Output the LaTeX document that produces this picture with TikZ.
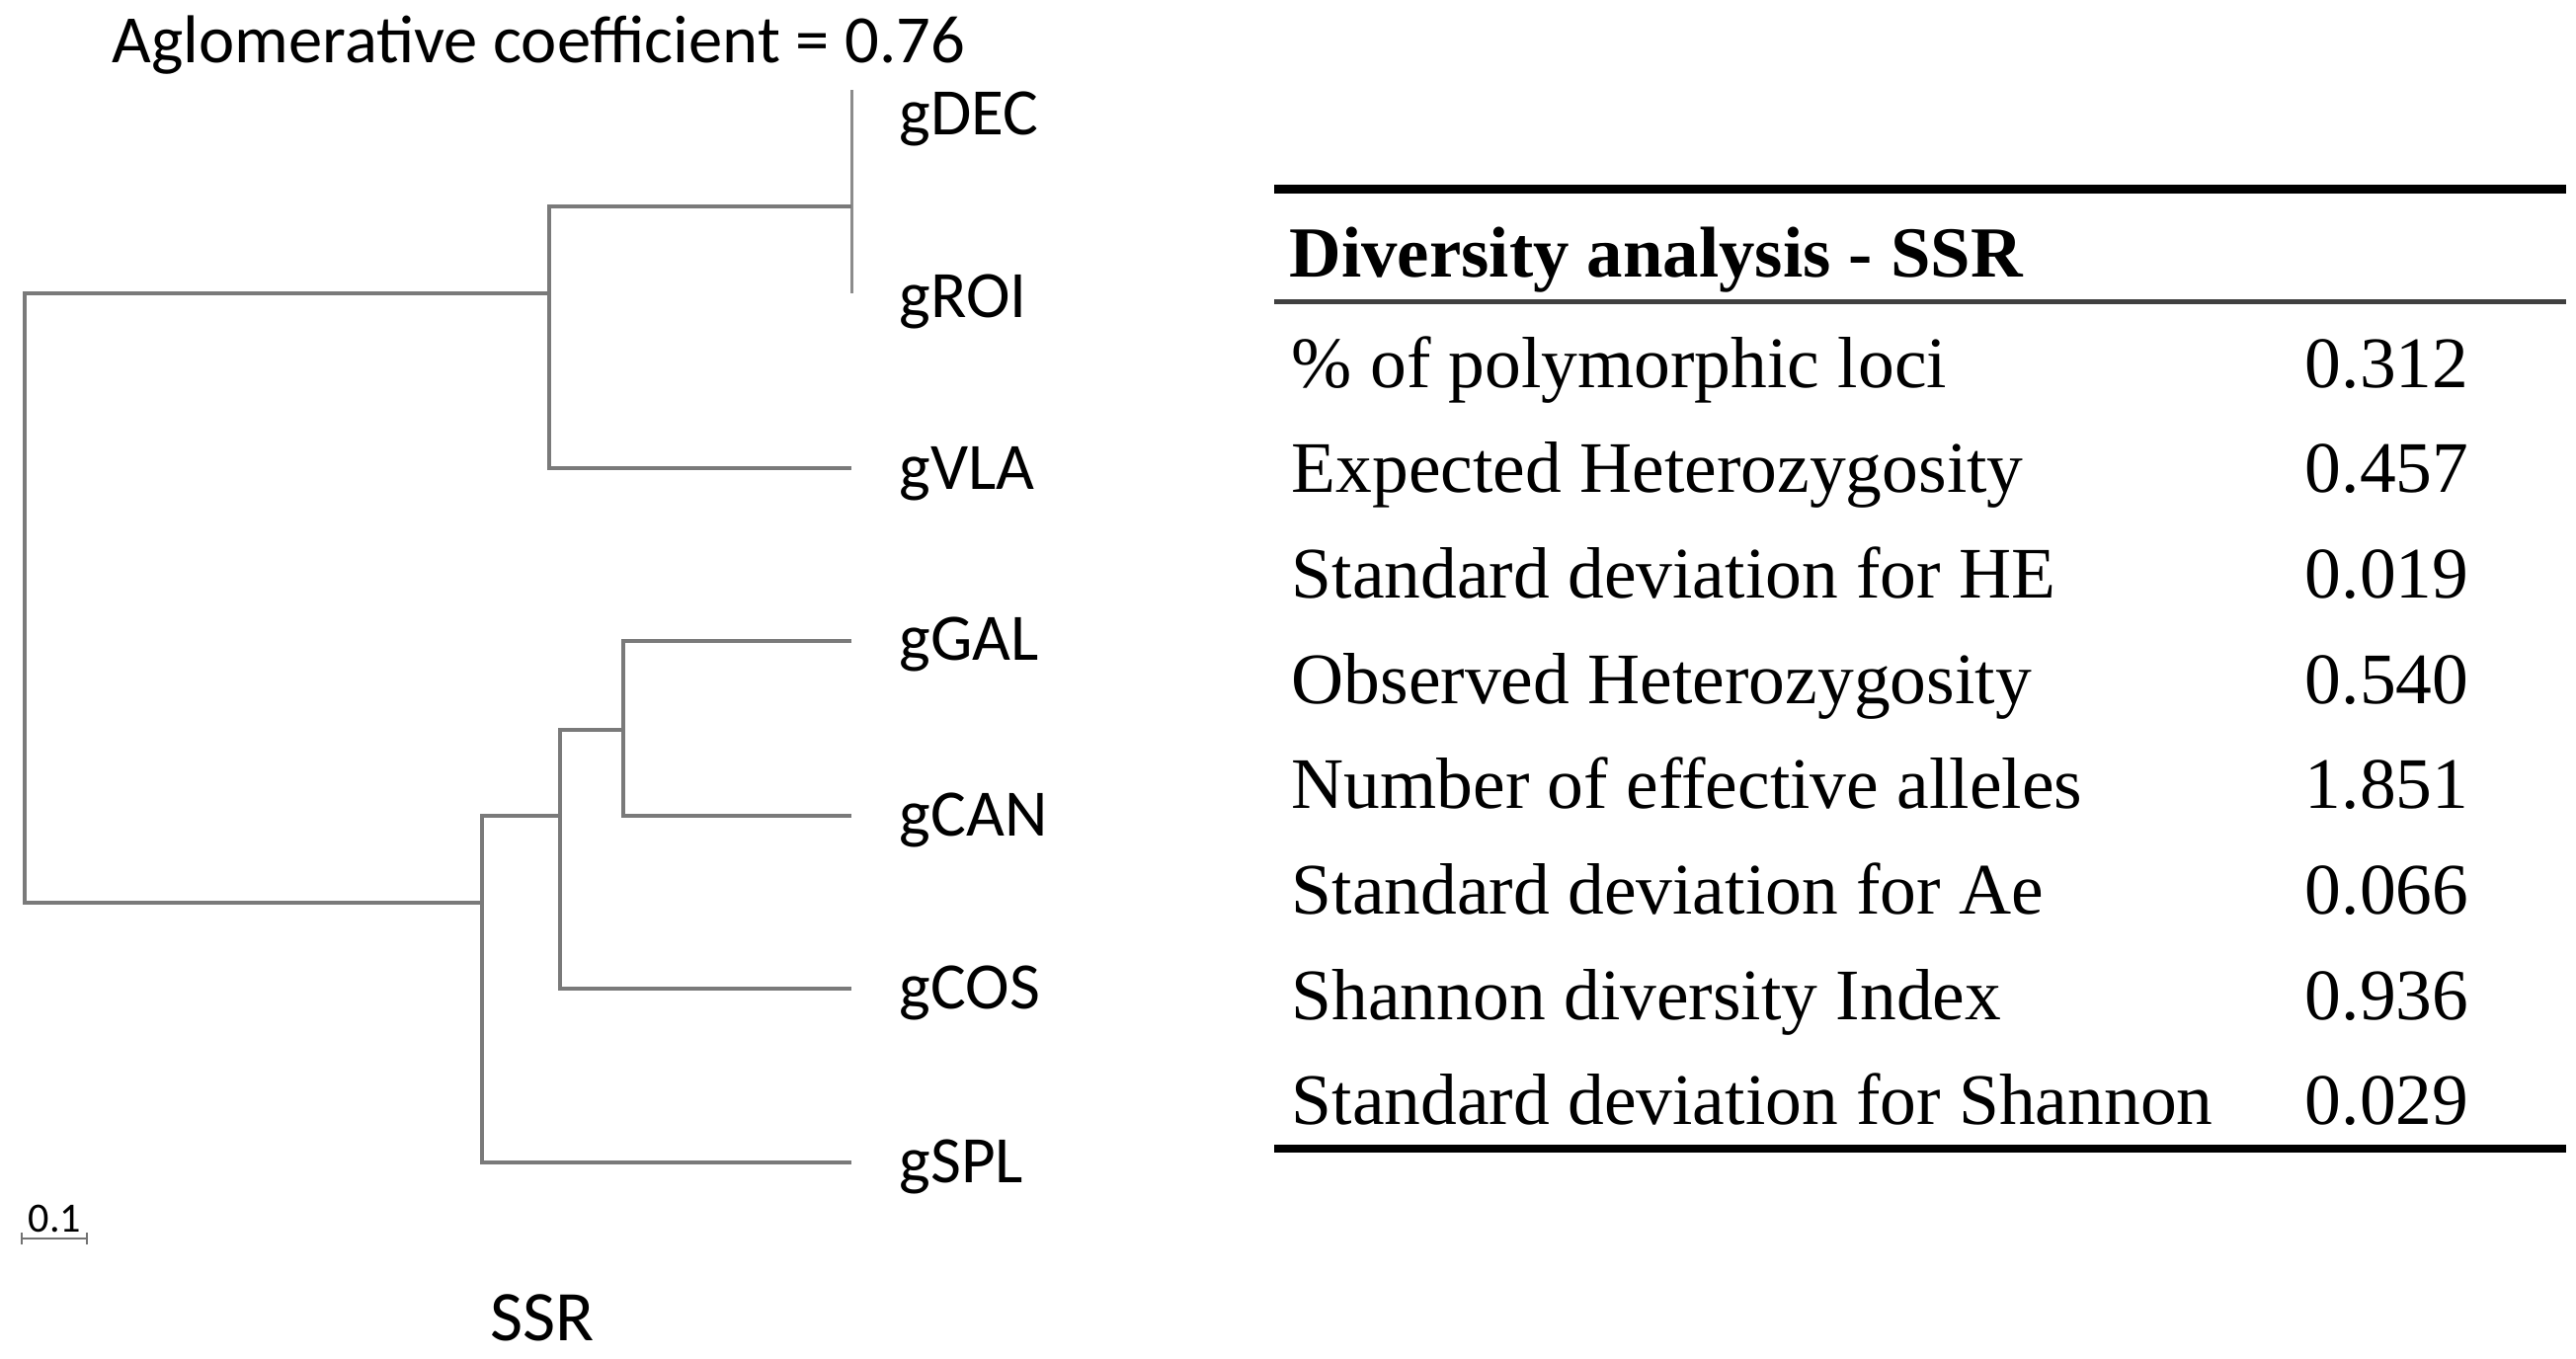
\documentclass[tikz,border=0pt]{standalone}
\usepackage{fontspec}
\setmainfont{Liberation Serif}
\newfontfamily\calib{Carlito}
\begin{document}
\begin{tikzpicture}[x=0.01cm,y=-0.01cm,
  br/.style={draw=black!52, line width=0.04cm},
  lbl/.style={anchor=base west, inner sep=0pt, font=\calib\fontsize{19.1}{23}\selectfont},
  rowlbl/.style={anchor=base west, inner sep=0pt, font=\fontsize{20.9}{25}\selectfont},
  rowval/.style={anchor=base east, inner sep=0pt, font=\fontsize{20.9}{25}\selectfont},
  rulethick/.style={draw=black, line width=0.085cm},
  rulethin/.style={draw=black!75, line width=0.05cm},
]
\fill[white] (0,0) rectangle (2608,1375);
\useasboundingbox (0,0) rectangle (2608,1375);

% title
\node[lbl, font=\calib\fontsize{19.5}{23}\selectfont] (title) at (113,63) {Aglomerative coefficient = 0.76};

% leaves
\coordinate (lDEC) at (862,91);
\coordinate (lROI) at (862,297);
\coordinate (lVLA) at (862,474);
\coordinate (lGAL) at (862,649);
\coordinate (lCAN) at (862,826);
\coordinate (lCOS) at (862,1001);
\coordinate (lSPL) at (862,1177);
% internal nodes
\coordinate (c1) at (862,209);
\coordinate (c2) at (556,297);
\coordinate (c3) at (631,738.5);
\coordinate (c4) at (567,826);
\coordinate (c5) at (487.6,914);
\coordinate (c0) at (25,600);

\draw[br, line width=0.03cm, draw=black!45] (lDEC) -- (lROI);
\draw[br] (c1) -- (c1 -| c2) -- (c2 |- lVLA) -- (lVLA);
\draw[br] (c2) -- (c2 -| c0) -- (c0 |- c5) -- (c5);
\draw[br] (lGAL) -- (lGAL -| c3) -- (c3 |- lCAN) -- (lCAN);
\draw[br] (c3) -- (c3 -| c4) -- (c4 |- lCOS) -- (lCOS);
\draw[br] (c4) -- (c4 -| c5) -- (c5 |- lSPL) -- (lSPL);

% leaf labels
\node[lbl] (tDEC) at (910,136) {gDEC};
\node[lbl] (tROI) at (910,321) {gROI};
\node[lbl] (tVLA) at (910,495) {gVLA};
\node[lbl] (tGAL) at (910,668) {gGAL};
\node[lbl] (tCAN) at (910,846) {gCAN};
\node[lbl] (tCOS) at (910,1021) {gCOS};
\node[lbl] (tSPL) at (910,1197) {gSPL};

% scale bar
\coordinate (sb1) at (22,1254);
\coordinate (sb2) at (88,1254);
\draw[draw=black!55, line width=0.02cm] (sb1) -- (sb2);
\draw[draw=black!55, line width=0.025cm] ([yshift=-0.06cm]sb1) -- ([yshift=0.06cm]sb1);
\draw[draw=black!55, line width=0.025cm] ([yshift=-0.06cm]sb2) -- ([yshift=0.06cm]sb2);
\node[lbl, font=\calib\fontsize{12}{14}\selectfont] (scale) at (28,1247) {0.1};

% SSR caption
\node[lbl, font=\calib\fontsize{20.5}{24}\selectfont] (cap) at (496,1357) {SSR};

% table
\draw[rulethick] (1290,191.7) -- (2598,191.7);
\node[anchor=base west, inner sep=0pt, font=\bfseries\fontsize{20.7}{25}\selectfont] (head) at (1305,280) {Diversity analysis - SSR};
\draw[rulethin] (1290,305) -- (2598,305);
\draw[rulethick] (1290,1163) -- (2598,1163);

\foreach \i/\t/\v in {0/{\% of polymorphic loci}/0.312,
                      1/{Expected Heterozygosity}/0.457,
                      2/{Standard deviation for HE}/0.019,
                      3/{Observed Heterozygosity}/0.540,
                      4/{Number of effective alleles}/1.851,
                      5/{Standard deviation for Ae}/0.066,
                      6/{Shannon diversity Index}/0.936,
                      7/{Standard deviation for Shannon}/0.029}{
  \node[rowlbl] (row\i) at (1307,392+\i*106.7) {\t};
  \node[rowval] (val\i) at (2500,392+\i*106.7) {\v};
}
\end{tikzpicture}
\end{document}
